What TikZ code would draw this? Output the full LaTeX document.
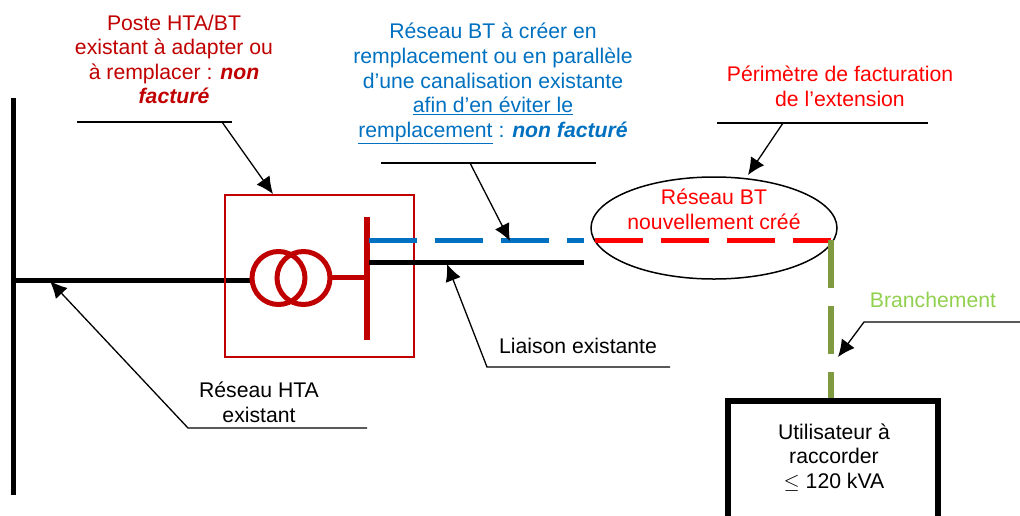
\documentclass[tikz,border=0pt]{standalone}
\usepackage{fontspec}
\setmainfont{Liberation Sans}
\usetikzlibrary{arrows.meta,shapes.geometric}
\definecolor{darkred}{HTML}{C00000}
\definecolor{netblue}{HTML}{0070C0}
\definecolor{olivegreen}{HTML}{7F9A3F}
\definecolor{lightgreen}{HTML}{92D050}
\tikzset{
  x=1pt,y=-1pt,
  label text/.style={align=center,font=\fontsize{21.2}{24.6}\selectfont,inner sep=0pt},
  leader/.style={draw=black,line width=1.3pt},
  leader arrow/.style={leader,-{Latex[length=17pt,width=16pt]}},
  bus/.style={line width=5pt},
  dashline/.style={line width=5pt,dash pattern=on 47.5pt off 18.5pt},
}
\begin{document}
\begin{tikzpicture}
\useasboundingbox (0,0) rectangle (1020,515);
\clip (0,0) rectangle (1020,515);
% network
\coordinate (hvtop) at (13,98);
\coordinate (hvbot) at (13,495);
\draw[line width=5pt] (hvtop) -- (hvbot);
\coordinate (htaL) at (14,280);
\coordinate (htaR) at (252,280);
\draw[bus] (htaL) -- (htaR);
\node[draw=darkred,line width=1.6pt,minimum width=189pt,minimum height=162pt,inner sep=0pt] (poste) at (319.5,276) {};
\node[circle,draw=darkred,line width=5pt,minimum size=53pt,inner sep=0pt] (c1) at (278.5,278) {};
\node[circle,draw=darkred,line width=5pt,minimum size=53pt,inner sep=0pt] (c2) at (303.5,278) {};
\coordinate (busT) at (367,217);
\coordinate (busB) at (367,340);
\coordinate (busS) at (367,277);
\draw[darkred,line width=6pt] (busT) -- (busB);
\draw[darkred,line width=5pt] (331,277) -- (busS);
\coordinate (blueL) at (369,240);
\coordinate (blueR) at (584,240);
\draw[netblue,dashline] (blueL) -- (blueR);
\coordinate (blackL) at (369,262);
\coordinate (blackR) at (584,262);
\draw[bus] (blackL) -- (blackR);
\node[ellipse,draw=black,line width=1.5pt,minimum width=246pt,minimum height=102pt,inner sep=0pt] (ell) at (714,228) {};
\coordinate (redL) at (595,240);
\coordinate (redR) at (831,240);
\draw[red,dashline] (redL) -- (redR);
\coordinate (grT) at (831,240);
\coordinate (grB) at (831,399);
\draw[olivegreen,line width=5.5pt,dash pattern=on 47.5pt off 18.5pt] (grT) -- (grB);
\node[draw=black,line width=6pt,minimum width=210pt,minimum height=150pt,inner sep=0pt,anchor=north west] (user) at (724.7,398) {};
% labels
\node[label text,text=darkred] (t1) at (174,59.5) {Poste HTA/BT\\existant à adapter ou\\à remplacer : \textbf{\textit{non}}\\\textbf{\textit{facturé}}};
\node[label text,text=netblue] (t2) at (493,83.5) {Réseau BT à créer en\\remplacement ou en parallèle\\d’une canalisation existante\\\underline{afin d’en éviter le}\\\underline{remplacement} : \textbf{\textit{non facturé}}};
\node[label text,text=red] (t3) at (840,86.5) {Périmètre de facturation\\de l’extension};
\node[label text,text=red] (t4) at (714,209) {Réseau BT\\nouvellement créé};
\node[label text,text=lightgreen] (t5) at (933,300) {Branchement};
\node[label text] (t6) at (578,346) {Liaison existante};
\node[label text] (t7) at (259,402) {Réseau HTA\\existant};
\node[label text] (t8) at (834,457.5) {Utilisateur à\\raccorder\\$\leq$ 120 kVA};
% leaders
\coordinate (a1) at (77,122); \coordinate (a2) at (232,122); \coordinate (a3) at (222,122); \coordinate (a4) at (273,194);
\draw[leader] (a1) -- (a2);
\draw[leader arrow] (a3) -- (a4);
\coordinate (b1) at (381,163); \coordinate (b2) at (596,163); \coordinate (b3) at (470,163); \coordinate (b4) at (510,241);
\draw[leader] (b1) -- (b2);
\draw[leader arrow] (b3) -- (b4);
\coordinate (d1) at (717,123); \coordinate (d2) at (928,123); \coordinate (d3) at (783,123); \coordinate (d4) at (748,175);
\draw[leader] (d1) -- (d2);
\draw[leader arrow] (d3) -- (d4);
\coordinate (e1) at (1020,322); \coordinate (e2) at (864,322); \coordinate (e3) at (838,357);
\draw[leader arrow] (e1) -- (e2) -- (e3);
\coordinate (f1) at (670,367); \coordinate (f2) at (487,367); \coordinate (f3) at (447,264);
\draw[leader arrow] (f1) -- (f2) -- (f3);
\coordinate (g1) at (367,428); \coordinate (g2) at (188,428); \coordinate (g3) at (50,281);
\draw[leader arrow] (g1) -- (g2) -- (g3);
\end{tikzpicture}
\end{document}
